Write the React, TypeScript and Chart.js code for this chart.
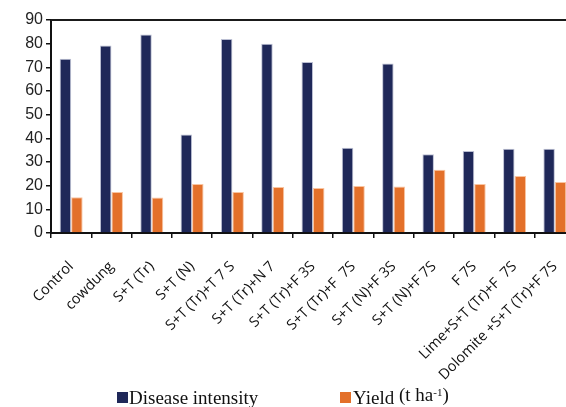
import React, { useEffect, useRef } from "react";
import { Chart, registerables } from "chart.js";

Chart.register(...registerables);

const categories = [
  "Control",
  "cowdung",
  "S+T (Tr)",
  "S+T (N)",
  "S+T (Tr)+T 7 S",
  "S+T (Tr)+N 7",
  "S+T (Tr)+F 3S",
  "S+T (Tr)+F  7S",
  "S+T (N)+F 3S",
  "S+T (N)+F 7S",
  "F 7S",
  "Lime+S+T (Tr)+F  7S",
  "Dolomite +S+T (Tr)+F 7S",
];
const diseaseIntensity = [73.6, 79.2, 83.9, 41.6, 82.0, 80.0, 72.3, 36.0, 71.6, 33.3, 34.7, 35.6, 35.6];
const yieldValues = [15.1, 17.3, 15.0, 20.7, 17.3, 19.4, 19.0, 19.9, 19.6, 26.7, 20.7, 24.1, 21.5];
const yMin = 0;
const yMax = 90;
const yStep = 10;

const NAVY = "#1f2859";
const ORANGE = "#e3702a";

const CANVAS_W = 600;
const CANVAS_H = 407;

const topLinePlugin = {
  id: "topLine",
  afterDraw(chart: any) {
    const { ctx, chartArea } = chart;
    ctx.save();
    ctx.strokeStyle = "#1a1a1a";
    ctx.lineWidth = 2;
    ctx.beginPath();
    ctx.moveTo(chartArea.left, chartArea.top);
    ctx.lineTo(chartArea.right, chartArea.top);
    ctx.stroke();
    ctx.restore();
  },
};

export default function App() {
  const ref = useRef<HTMLCanvasElement | null>(null);

  useEffect(() => {
    if (!ref.current) return;
    const chart = new Chart(ref.current, {
      type: "bar",
      data: {
        labels: categories,
        datasets: [
          {
            label: "Disease intensity",
            data: diseaseIntensity,
            backgroundColor: NAVY,
            borderColor: "rgba(170,175,200,0.8)",
            borderWidth: { top: 1, left: 1, right: 1, bottom: 0 },
            categoryPercentage: 0.57,
            barPercentage: 1.0,
          },
          {
            label: "Yield",
            data: yieldValues,
            backgroundColor: ORANGE,
            borderColor: "rgba(248,190,150,0.9)",
            borderWidth: { top: 1, left: 1, right: 1, bottom: 0 },
            categoryPercentage: 0.57,
            barPercentage: 1.0,
          },
        ],
      },
      options: {
        responsive: false,
        animation: false,
        devicePixelRatio: 1,
        layout: { padding: { top: 20, right: CANVAS_W - 575, left: 0, bottom: 0 } },
        plugins: {
          legend: { display: false },
          tooltip: { enabled: false },
        },
        scales: {
          x: {
            grid: {
              display: true,
              drawOnChartArea: false,
              drawTicks: true,
              tickLength: 5,
              color: "#111",
              lineWidth: 1.5,
              offset: true,
            },
            border: { display: true, color: "#111", width: 2 },
            ticks: {
              autoSkip: false,
              minRotation: 45,
              maxRotation: 45,
              padding: 20,
              color: "#111",
              font: { family: "'Open Sans'", size: 14.5 },
            },
            afterFit(scale: any) {
              scale.height = CANVAS_H - 233;
            },
          },
          y: {
            min: yMin,
            max: yMax,
            grid: {
              display: true,
              drawOnChartArea: false,
              drawTicks: true,
              tickLength: 5,
              color: "#111",
              lineWidth: 1.5,
            },
            border: { display: true, color: "#111", width: 2 },
            ticks: {
              stepSize: yStep,
              padding: 3,
              color: "#222",
              font: { family: "'Liberation Sans'", size: 16 },
            },
            afterFit(scale: any) {
              scale.width = 51;
            },
          },
        },
      },
      plugins: [topLinePlugin],
    });
    return () => chart.destroy();
  }, []);

  const serif = "'Liberation Serif', 'Times New Roman', serif";

  return (
    <div
      style={{
        position: "fixed",
        left: 0,
        top: 0,
        width: 566,
        height: 407,
        overflow: "hidden",
        background: "#fff",
      }}
    >
      <canvas
        ref={ref}
        width={CANVAS_W}
        height={CANVAS_H}
        style={{ position: "absolute", left: 0, top: 0, width: CANVAS_W, height: CANVAS_H }}
      />
      <div style={{ position: "absolute", left: 117, top: 392, width: 11, height: 11, background: NAVY }} />
      <div
        style={{
          position: "absolute",
          left: 129,
          top: 388,
          fontFamily: serif,
          fontSize: 19,
          lineHeight: "19px",
          color: "#111",
          whiteSpace: "nowrap",
        }}
      >
        Disease intensity
      </div>
      <div style={{ position: "absolute", left: 340, top: 392, width: 11, height: 11, background: ORANGE }} />
      <div
        style={{
          position: "absolute",
          left: 353,
          top: 388,
          fontFamily: serif,
          fontSize: 19,
          lineHeight: "19px",
          color: "#111",
          whiteSpace: "nowrap",
        }}
      >
        Yield
      </div>
      <div
        style={{
          position: "absolute",
          left: 399,
          top: 385,
          fontFamily: serif,
          fontSize: 19,
          lineHeight: "19px",
          color: "#111",
          whiteSpace: "nowrap",
        }}
      >
        (t ha<sup style={{ fontSize: 11, verticalAlign: "top", position: "relative", top: -2 }}>-1</sup>)
      </div>
    </div>
  );
}
